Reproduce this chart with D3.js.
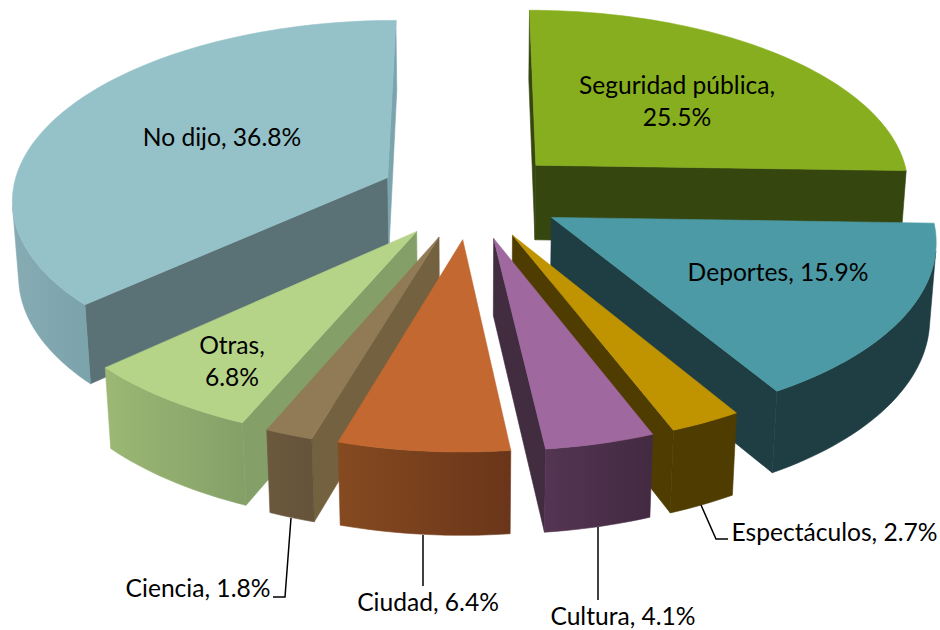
<!DOCTYPE html>
<html><head><meta charset="utf-8">
<script src="https://cdn.jsdelivr.net/npm/d3@7"></script>
<style>html,body{margin:0;padding:0;background:#fff}svg{display:block}text{font-family:Lato,"Open Sans",sans-serif;font-size:24.6px;fill:#000}</style>
</head><body><svg id="c" width="940" height="630"></svg>
<script>
const categories = ["Seguridad pública","Deportes","Espectáculos","Cultura","Ciudad","Ciencia","Otras","No dijo"];
const values = [25.5,15.9,2.7,4.1,6.4,1.8,6.8,36.8];
const topColors = ["#86AE1E","#4C9AA5","#BF9400","#9F689E","#C26830","#907B56","#B5D488","#95C2C9"];
const cutColors = ["#36460F","#1F3E43","#4F3C00","#422C40","#6A3519","#74613F","#84A068","#5A7176"];
const cutEndColors = ["#36460F","#1F3E43","#4F3C00","#422C40","#6A3519","#74613F","#84A068","#7CA4AC"];
const wallRight = ["#36460F","#1F3E43","#4F3C00","#432A41","#6A3519","#65533A","#84A068","#7BA3AB"];
const wallLeft = ["#36460F","#1F3E43","#4F3C00","#543553","#854A20","#6B583D","#9CB874","#86ABB3"];
const paintOrder = [0,7,1,6,2,5,3,4];
const labelLines = [["Seguridad pública,","25.5%"],["Deportes, 15.9%"],["Espectáculos, 2.7%"],["Cultura, 4.1%"],["Ciudad, 6.4%"],["Ciencia, 1.8%"],["Otras,","6.8%"],["No dijo, 36.8%"]];
const labelPos = [[677,94],[778,281],[834.5,541],[623,625],[428,611],[198,597],[232,354],[222,146]];
const leaders = [[[701,505],[716,539],[728,539]],[[598,527],[598,600]],[[423,535],[423,586]],[[291,518],[285,597],[273,597]]];

const cam = {cx:471, cy:195, R:376, explode:92, H:87, sinT:0.474, D:3000};
cam.cosT = Math.sqrt(1-cam.sinT*cam.sinT);
function project(X,Y,Z){
  const d = Y*cam.cosT + Z*cam.sinT, s = cam.D/(cam.D-d);
  return [cam.cx + X*s, cam.cy + (Y*cam.sinT - Z*cam.cosT)*s];
}
const arcs = d3.pie().sort(null).value(d=>d)(values);
const svg = d3.select("#c");
const defs = svg.append("defs");
const line = d3.line();
const area = p => d3.polygonArea(p);
function face(g,pts,fill){
  g.append("path").attr("d",line(pts)+"Z").attr("fill",fill).attr("stroke",fill).attr("stroke-width",0.6).attr("stroke-linejoin","round");
}
paintOrder.forEach(i=>{
  const a = arcs[i], g = svg.append("g").attr("class","slice");
  const mid = (a.startAngle+a.endAngle)/2;
  const ox = Math.sin(mid)*cam.explode, oy = -Math.cos(mid)*cam.explode;
  const pt = (t,r,z)=>project(ox+Math.sin(t)*r, oy-Math.cos(t)*r, z);
  const angle = d3.scaleLinear().domain([0,1]).range([a.startAngle,a.endAngle]);
  const n = Math.max(6,Math.round((a.endAngle-a.startAngle)*40));
  const ts = d3.range(n+1).map(k=>angle(k/n));
  const q1=[pt(a.startAngle,0,0),pt(a.startAngle,cam.R,0),pt(a.startAngle,cam.R,-cam.H),pt(a.startAngle,0,-cam.H)];
  const q2=[pt(a.endAngle,cam.R,0),pt(a.endAngle,0,0),pt(a.endAngle,0,-cam.H),pt(a.endAngle,cam.R,-cam.H)];
  if(area(q1)>0) face(g,q1,cutColors[i]);
  if(area(q2)>0) face(g,q2,cutEndColors[i]);
  const vis = d3.pairs(ts).filter(([t0,t1])=>area([pt(t1,cam.R,0),pt(t0,cam.R,0),pt(t0,cam.R,-cam.H),pt(t1,cam.R,-cam.H)])<0);
  if(vis.length){
    const run = [vis[0][0]].concat(vis.map(v=>v[1]));
    const wall = run.map(t=>pt(t,cam.R,0)).concat(run.slice().reverse().map(t=>pt(t,cam.R,-cam.H)));
    let fill = wallLeft[i];
    if(wallLeft[i]!==wallRight[i]){
      const id = "wall"+i;
      const gr = defs.append("linearGradient").attr("id",id);
      gr.append("stop").attr("offset",0).attr("stop-color",wallLeft[i]);
      gr.append("stop").attr("offset",1).attr("stop-color",wallRight[i]);
      fill = `url(#${id})`;
    }
    face(g,wall,fill);
  }
  const top=[pt(a.startAngle,0,0)].concat(ts.map(t=>pt(t,cam.R,0)));
  face(g,top,topColors[i]);
});
const lg = svg.append("g");
leaders.forEach(l=>lg.append("path").attr("d",line(l)).attr("fill","none").attr("stroke","#000").attr("stroke-width",1.5));
const tg = svg.append("g");
labelLines.forEach((lines,i)=>{
  lines.forEach((s,k)=>tg.append("text").attr("x",labelPos[i][0]).attr("y",labelPos[i][1]+k*32).attr("text-anchor","middle").text(s));
});
</script></body></html>
